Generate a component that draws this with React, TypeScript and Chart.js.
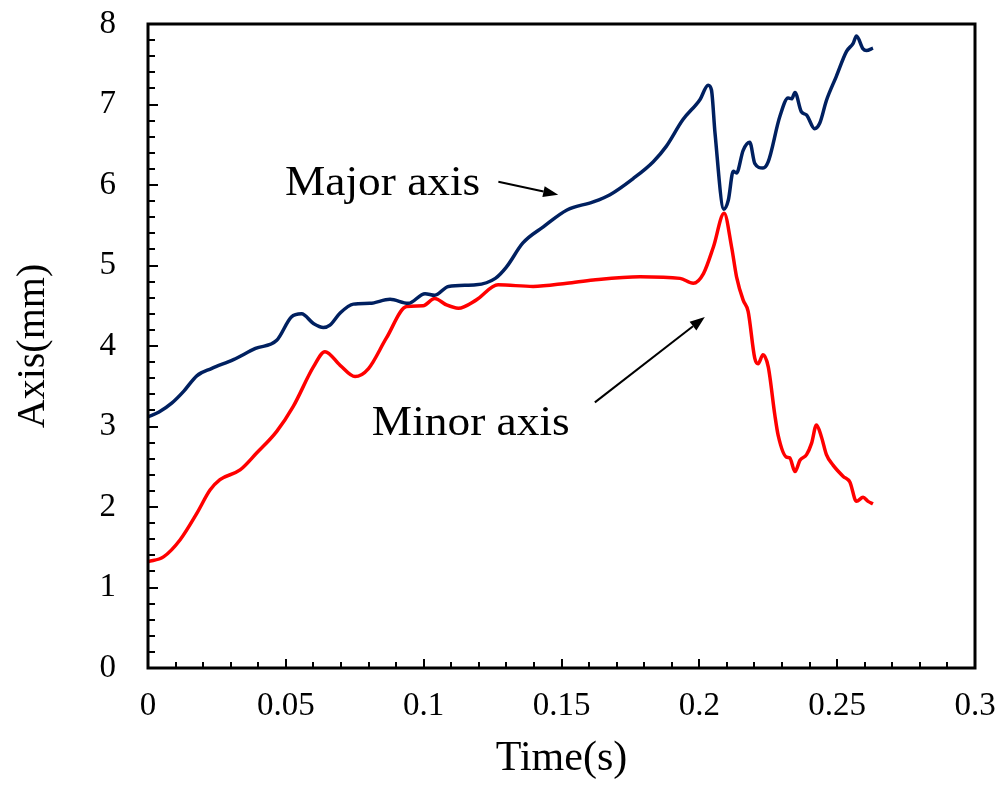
import React, { useEffect, useRef } from "react";
import { Chart, registerables } from "chart.js";

Chart.register(...registerables);

// Major axis series (time in s, axis length in mm)
const majorTime = [0, 0.004, 0.0086, 0.013, 0.0177, 0.023, 0.031, 0.039, 0.0467, 0.052, 0.0557, 0.06, 0.0636, 0.066, 0.0697, 0.0745, 0.0805, 0.0878, 0.0944, 0.1005, 0.104, 0.109, 0.119, 0.126, 0.13, 0.136, 0.1434, 0.152, 0.1615, 0.1676, 0.176, 0.1833, 0.188, 0.194, 0.2002, 0.2032, 0.2044, 0.2057, 0.2089, 0.2105, 0.2123, 0.2135, 0.2159, 0.2183, 0.2201, 0.2231, 0.225, 0.2292, 0.2322, 0.2335, 0.2347, 0.237, 0.2389, 0.2418, 0.2437, 0.2461, 0.2497, 0.2534, 0.2558, 0.257, 0.2594, 0.2606, 0.263];
const majorValue = [3.12, 3.18, 3.29, 3.44, 3.63, 3.72, 3.83, 3.97, 4.07, 4.36, 4.4, 4.28, 4.23, 4.26, 4.41, 4.52, 4.53, 4.58, 4.53, 4.65, 4.63, 4.74, 4.76, 4.84, 4.98, 5.28, 5.48, 5.69, 5.79, 5.88, 6.08, 6.29, 6.48, 6.81, 7.06, 7.24, 7.18, 6.64, 5.7, 5.81, 6.17, 6.15, 6.43, 6.53, 6.27, 6.21, 6.29, 6.85, 7.08, 7.07, 7.15, 6.91, 6.87, 6.7, 6.77, 7.05, 7.35, 7.66, 7.76, 7.85, 7.69, 7.67, 7.7];

// Minor axis series
const minorTime = [0, 0.0056, 0.0116, 0.0177, 0.0225, 0.0261, 0.0334, 0.0394, 0.0467, 0.0527, 0.06, 0.0642, 0.0697, 0.0751, 0.08, 0.0865, 0.0938, 0.0998, 0.104, 0.1083, 0.1126, 0.119, 0.127, 0.1397, 0.152, 0.1615, 0.1785, 0.193, 0.1978, 0.2015, 0.2051, 0.209, 0.2117, 0.2135, 0.2159, 0.2177, 0.2201, 0.2213, 0.2231, 0.225, 0.2274, 0.2286, 0.2316, 0.2328, 0.2347, 0.2365, 0.2389, 0.2407, 0.2425, 0.2443, 0.2461, 0.2485, 0.2522, 0.2546, 0.257, 0.2594, 0.2612, 0.263];
const minorValue = [1.32, 1.38, 1.59, 1.92, 2.21, 2.34, 2.46, 2.67, 2.94, 3.25, 3.74, 3.93, 3.76, 3.62, 3.72, 4.1, 4.49, 4.5, 4.59, 4.51, 4.47, 4.57, 4.76, 4.74, 4.78, 4.82, 4.86, 4.84, 4.78, 4.9, 5.23, 5.65, 5.23, 4.86, 4.57, 4.43, 3.85, 3.78, 3.89, 3.74, 3.14, 2.89, 2.62, 2.61, 2.44, 2.58, 2.65, 2.79, 3.02, 2.87, 2.65, 2.52, 2.38, 2.31, 2.07, 2.12, 2.07, 2.04];

const xTickLabels = ["0", "0.05", "0.1", "0.15", "0.2", "0.25", "0.3"];
const yTickLabels = ["0", "1", "2", "3", "4", "5", "6", "7", "8"];

const xTitle = "Time(s)";
const yTitle = "Axis(mm)";
const majorLabel = "Major axis";
const minorLabel = "Minor axis";

// annotation anchors in data coordinates
const majorTextAt = [0.0497, 5.88];
const majorArrow = [0.1271, 6.04, 0.1488, 5.88];
const minorTextAt = [0.0812, 2.89];
const minorArrow = [0.1621, 3.3, 0.202, 4.36];

const SERIF = "'Liberation Serif', 'Times New Roman', serif";

function drawArrow(ctx: CanvasRenderingContext2D, x1: number, y1: number, x2: number, y2: number) {
  const ang = Math.atan2(y2 - y1, x2 - x1);
  const head = 15;
  const half = 5.5;
  const bx = x2 - head * Math.cos(ang);
  const by = y2 - head * Math.sin(ang);
  ctx.beginPath();
  ctx.moveTo(x1, y1);
  ctx.lineTo(bx, by);
  ctx.lineWidth = 2;
  ctx.strokeStyle = "#000";
  ctx.stroke();
  ctx.beginPath();
  ctx.moveTo(x2, y2);
  ctx.lineTo(bx + half * Math.sin(ang), by - half * Math.cos(ang));
  ctx.lineTo(bx - half * Math.sin(ang), by + half * Math.cos(ang));
  ctx.closePath();
  ctx.fillStyle = "#000";
  ctx.fill();
}

function wideText(ctx: CanvasRenderingContext2D, text: string, x: number, y: number, sx: number) {
  ctx.save();
  ctx.translate(x, y);
  ctx.scale(sx, 1);
  ctx.fillText(text, 0, 0);
  ctx.restore();
}

const framePlugin = {
  id: "frameAndNotes",
  afterDraw(chart: any) {
    const ctx: CanvasRenderingContext2D = chart.ctx;
    const { left, right, top, bottom } = chart.chartArea;
    const xs = chart.scales.x;
    const ys = chart.scales.y;
    ctx.save();
    // inward ticks
    ctx.strokeStyle = "#000";
    ctx.lineWidth = 2;
    for (let i = 1; i < 40; i++) {
      const py = Math.round(ys.getPixelForValue(i * 0.2));
      const len = i % 5 === 0 ? 10 : 7;
      ctx.beginPath();
      ctx.moveTo(left, py);
      ctx.lineTo(left + len, py);
      ctx.stroke();
    }
    for (let i = 1; i < 30; i++) {
      const px = Math.round(xs.getPixelForValue(i * 0.01));
      const len = i % 5 === 0 ? 9 : 6;
      ctx.beginPath();
      ctx.moveTo(px, bottom);
      ctx.lineTo(px, bottom - len);
      ctx.stroke();
    }
    // frame
    ctx.lineWidth = 3;
    ctx.strokeRect(left, top, right - left, bottom - top);

    // annotations
    ctx.fillStyle = "#000";
    ctx.font = `42px ${SERIF}`;
    ctx.textAlign = "left";
    ctx.textBaseline = "alphabetic";
    wideText(ctx, majorLabel, xs.getPixelForValue(majorTextAt[0]), ys.getPixelForValue(majorTextAt[1]), 1.08);
    wideText(ctx, minorLabel, xs.getPixelForValue(minorTextAt[0]), ys.getPixelForValue(minorTextAt[1]), 1.08);
    drawArrow(
      ctx,
      xs.getPixelForValue(majorArrow[0]),
      ys.getPixelForValue(majorArrow[1]),
      xs.getPixelForValue(majorArrow[2]),
      ys.getPixelForValue(majorArrow[3])
    );
    drawArrow(
      ctx,
      xs.getPixelForValue(minorArrow[0]),
      ys.getPixelForValue(minorArrow[1]),
      xs.getPixelForValue(minorArrow[2]),
      ys.getPixelForValue(minorArrow[3])
    );
    ctx.restore();
  },
};

export default function App() {
  const ref = useRef<HTMLCanvasElement | null>(null);
  useEffect(() => {
    if (!ref.current) return;
    const chart = new Chart(ref.current, {
      type: "line",
      data: {
        datasets: [
          {
            label: majorLabel,
            data: majorTime.map((t, i) => ({ x: t, y: majorValue[i] })),
            borderColor: "#002060",
            borderWidth: 3.5,
            pointRadius: 0,
            cubicInterpolationMode: "monotone",
            fill: false,
          },
          {
            label: minorLabel,
            data: minorTime.map((t, i) => ({ x: t, y: minorValue[i] })),
            borderColor: "#FF0000",
            borderWidth: 3.5,
            pointRadius: 0,
            cubicInterpolationMode: "monotone",
            fill: false,
          },
        ],
      },
      options: {
        responsive: false,
        animation: false,
        devicePixelRatio: 1,
        layout: { padding: { left: 0, right: 26, top: 24, bottom: 0 } },
        plugins: { legend: { display: false }, tooltip: { enabled: false } },
        scales: {
          x: {
            type: "linear",
            min: 0,
            max: 0.3,
            afterFit: (s: any) => {
              s.height = 119;
              s.paddingLeft = 0;
              s.paddingRight = 0;
              s.paddingTop = 0;
              s.paddingBottom = 0;
            },
            afterBuildTicks: (s: any) => {
              s.ticks = xTickLabels.map((l) => ({ value: parseFloat(l) }));
            },
            grid: { display: false, drawTicks: false },
            border: { display: false },
            ticks: {
              padding: 19,
              color: "#000",
              font: { family: SERIF, size: 33 },
              maxRotation: 0,
              autoSkip: false,
              callback: (v: any) => {
                const idx = xTickLabels.findIndex((l) => Math.abs(parseFloat(l) - Number(v)) < 1e-9);
                return idx >= 0 ? xTickLabels[idx] : "";
              },
            },
            title: {
              display: true,
              text: xTitle,
              color: "#000",
              font: { family: SERIF, size: 42 },
              padding: { top: 0, bottom: 3 },
            },
          },
          y: {
            type: "linear",
            min: 0,
            max: 8,
            afterFit: (s: any) => {
              s.width = 148;
              s.paddingLeft = 0;
              s.paddingRight = 0;
              s.paddingTop = 0;
              s.paddingBottom = 0;
            },
            afterBuildTicks: (s: any) => {
              s.ticks = yTickLabels.map((l) => ({ value: parseFloat(l) }));
            },
            grid: { display: false, drawTicks: false },
            border: { display: false },
            ticks: {
              padding: 32,
              color: "#000",
              font: { family: SERIF, size: 33 },
              autoSkip: false,
              callback: (v: any) => {
                const idx = yTickLabels.findIndex((l) => Math.abs(parseFloat(l) - Number(v)) < 1e-9);
                return idx >= 0 ? yTickLabels[idx] : "";
              },
            },
            title: {
              display: true,
              text: yTitle,
              color: "#000",
              font: { family: SERIF, size: 40 },
              padding: { top: 9, bottom: 0 },
            },
          },
        },
      } as any,
      plugins: [framePlugin],
    });
    return () => chart.destroy();
  }, []);
  return (
    <div style={{ position: "absolute", left: 0, top: 0, width: 1001, height: 787, background: "#fff" }}>
      <canvas ref={ref} width={1001} height={787} style={{ display: "block" }} />
    </div>
  );
}
